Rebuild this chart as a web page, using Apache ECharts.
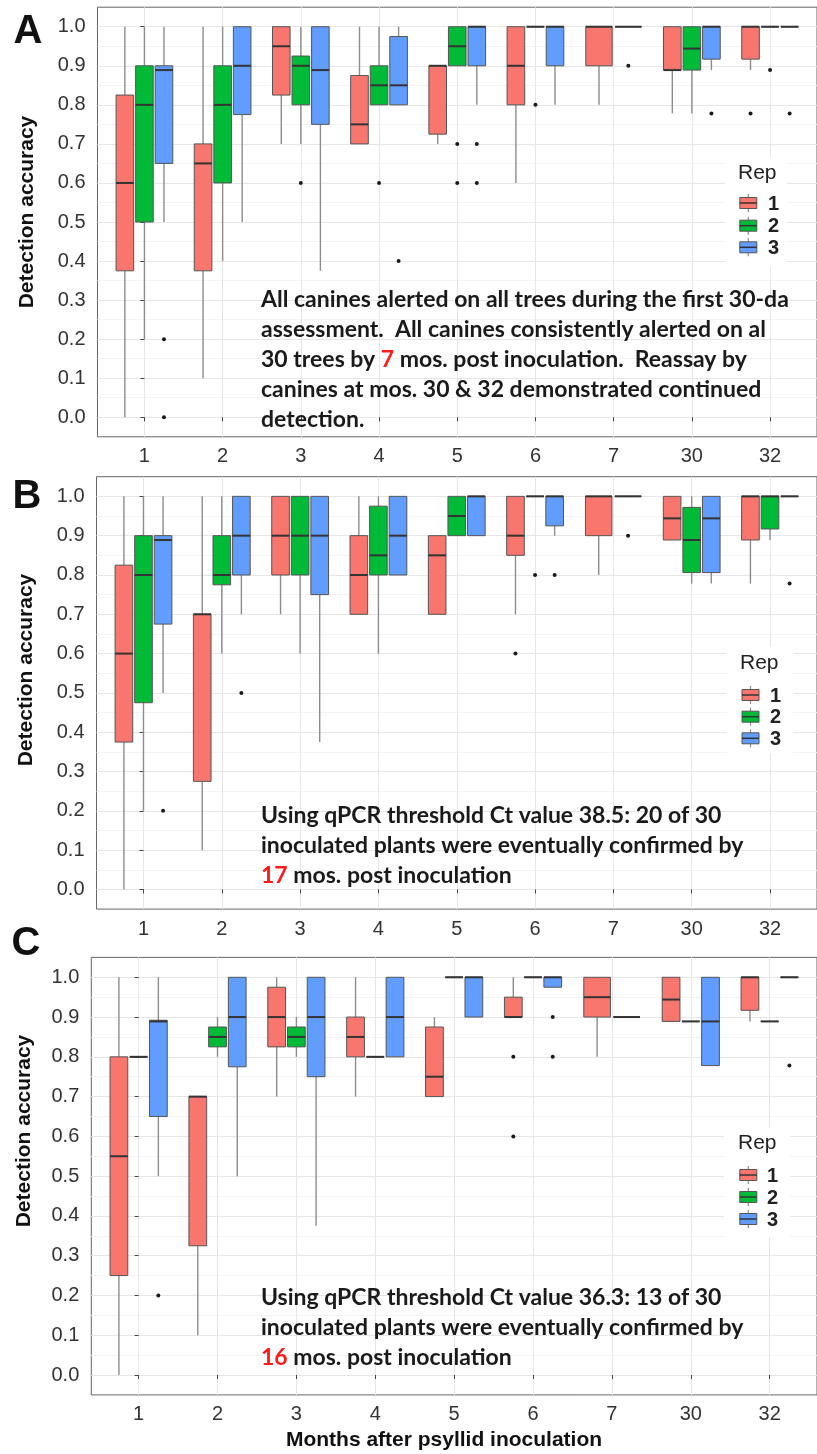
<!DOCTYPE html>
<html>
<head>
<meta charset="utf-8">
<script src="https://cdn.jsdelivr.net/npm/echarts@6/dist/echarts.min.js"></script>
<style>
  html, body { margin: 0; padding: 0; background: #fff; }
  #chart { width: 817px; height: 1454px; }
</style>
</head>
<body>
<div id="chart"></div>
<script>
// ---- data -------------------------------------------------------------
const MONTHS = ['1', '2', '3', '4', '5', '6', '7', '30', '32'];
const REPS = ['1', '2', '3'];
const Y_TICKS = [0, 0.1, 0.2, 0.3, 0.4, 0.5, 0.6, 0.7, 0.8, 0.9, 1.0];
const Y_MINOR = [0.05, 0.15, 0.25, 0.35, 0.45, 0.55, 0.65, 0.75, 0.85, 0.95];

// box statistics per month: [min, q1, median, q3, max]; null = not assessed
// Panel A: canine detection accuracy
const A_REP1 = [
  [0, 0.375, 0.6, 0.825, 1.0], [0.1, 0.375, 0.65, 0.7, 1.0], [0.7, 0.825, 0.95, 1.0, 1.0],
  [0.7, 0.7, 0.75, 0.875, 1.0], [0.7, 0.725, 0.9, 0.9, 0.9], [0.6, 0.8, 0.9, 1.0, 1.0],
  [0.8, 0.9, 1.0, 1.0, 1.0], [0.778, 0.889, 0.889, 1.0, 1.0], [0.889, 0.917, 1.0, 1.0, 1.0]
];
const A_REP2 = [
  [0.2, 0.5, 0.8, 0.9, 1.0], [0.4, 0.6, 0.8, 0.9, 1.0], [0.7, 0.8, 0.9, 0.925, 1.0],
  [0.8, 0.8, 0.85, 0.9, 1.0], [0.9, 0.9, 0.95, 1.0, 1.0], [1, 1, 1, 1, 1],
  [1, 1, 1, 1, 1], [0.778, 0.889, 0.944, 1.0, 1.0], [1, 1, 1, 1, 1]
];
const A_REP3 = [
  [0.5, 0.65, 0.889, 0.9, 1.0], [0.5, 0.775, 0.9, 1.0, 1.0], [0.375, 0.75, 0.889, 1.0, 1.0],
  [0.8, 0.8, 0.85, 0.975, 1.0], [0.8, 0.9, 1.0, 1.0, 1.0], [0.8, 0.9, 1.0, 1.0, 1.0],
  null, [0.889, 0.917, 1.0, 1.0, 1.0], [1, 1, 1, 1, 1]
];
// outliers: [month index, value]
const A_OUT1 = [[8, 0.778]];
const A_OUT2 = [[2, 0.6], [3, 0.6], [4, 0.7], [4, 0.6], [5, 0.8], [6, 0.9], [8, 0.889]];
const A_OUT3 = [[0, 0.2], [0, 0.0], [3, 0.4], [4, 0.7], [4, 0.6], [7, 0.778], [8, 0.778]];

// Panel B: qPCR threshold Ct 38.5
const B_REP1 = [
  [0, 0.375, 0.6, 0.825, 1.0], [0.1, 0.275, 0.7, 0.7, 1.0], [0.7, 0.8, 0.9, 1.0, 1.0],
  [0.7, 0.7, 0.8, 0.9, 1.0], [0.7, 0.7, 0.85, 0.9, 0.9], [0.7, 0.85, 0.9, 1.0, 1.0],
  [0.8, 0.9, 1.0, 1.0, 1.0], [0.889, 0.889, 0.944, 1.0, 1.0], [0.778, 0.889, 1.0, 1.0, 1.0]
];
const B_REP2 = [
  [0.2, 0.475, 0.8, 0.9, 1.0], [0.6, 0.775, 0.8, 0.9, 1.0], [0.6, 0.8, 0.9, 1.0, 1.0],
  [0.6, 0.8, 0.85, 0.975, 1.0], [0.9, 0.9, 0.95, 1.0, 1.0], [1, 1, 1, 1, 1],
  [1, 1, 1, 1, 1], [0.778, 0.806, 0.889, 0.972, 1.0], [0.889, 0.917, 1.0, 1.0, 1.0]
];
const B_REP3 = [
  [0.5, 0.675, 0.889, 0.9, 1.0], [0.7, 0.8, 0.9, 1.0, 1.0], [0.375, 0.75, 0.9, 1.0, 1.0],
  [0.8, 0.8, 0.9, 1.0, 1.0], [0.9, 0.9, 1.0, 1.0, 1.0], [0.9, 0.925, 1.0, 1.0, 1.0],
  null, [0.778, 0.806, 0.944, 1.0, 1.0], [1, 1, 1, 1, 1]
];
const B_OUT1 = [[5, 0.6]];
const B_OUT2 = [[5, 0.8], [6, 0.9]];
const B_OUT3 = [[0, 0.2], [1, 0.5], [5, 0.8], [8, 0.778]];

// Panel C: qPCR threshold Ct 36.3
const C_REP1 = [
  [0, 0.25, 0.55, 0.8, 1.0], [0.1, 0.325, 0.7, 0.7, 0.7], [0.7, 0.825, 0.9, 0.975, 1.0],
  [0.7, 0.8, 0.85, 0.9, 1.0], [0.7, 0.7, 0.75, 0.875, 0.9], [0.9, 0.9, 0.9, 0.95, 1.0],
  [0.8, 0.9, 0.95, 1.0, 1.0], [0.889, 0.889, 0.944, 1.0, 1.0], [0.889, 0.917, 1.0, 1.0, 1.0]
];
const C_REP2 = [
  [0.8, 0.8, 0.8, 0.8, 0.8], [0.8, 0.825, 0.85, 0.875, 0.9], [0.8, 0.825, 0.85, 0.875, 0.9],
  [0.8, 0.8, 0.8, 0.8, 0.8], [1, 1, 1, 1, 1], [1, 1, 1, 1, 1],
  [0.9, 0.9, 0.9, 0.9, 0.9], [0.889, 0.889, 0.889, 0.889, 0.889], [0.889, 0.889, 0.889, 0.889, 0.889]
];
const C_REP3 = [
  [0.5, 0.65, 0.889, 0.892, 1.0], [0.5, 0.775, 0.9, 1.0, 1.0], [0.375, 0.75, 0.9, 1.0, 1.0],
  [0.8, 0.8, 0.9, 1.0, 1.0], [0.9, 0.9, 1.0, 1.0, 1.0], [0.975, 0.975, 1.0, 1.0, 1.0],
  null, [0.778, 0.778, 0.889, 1.0, 1.0], [1, 1, 1, 1, 1]
];
const C_OUT1 = [[5, 0.8], [5, 0.6]];
const C_OUT2 = [];
const C_OUT3 = [[0, 0.2], [5, 0.9], [5, 0.8], [8, 0.778]];

// annotation text; {r|..} marks the highlighted month
const A_NOTE = [
  'All canines alerted on all trees during the first 30-da',
  'assessment.  All canines consistently alerted on al',
  '30 trees by {r|7} mos. post inoculation.  Reassay by',
  'canines at mos. 30 & 32 demonstrated continued',
  'detection.'
];
const B_NOTE = [
  'Using qPCR threshold Ct value 38.5: 20 of 30',
  'inoculated plants were eventually confirmed by',
  '{r|17} mos. post inoculation'
];
const C_NOTE = [
  'Using qPCR threshold Ct value 36.3: 13 of 30',
  'inoculated plants were eventually confirmed by',
  '{r|16} mos. post inoculation'
];

// ---- styling / layout ------------------------------------------------------
const COLORS = ['#F8766D', '#00BA38', '#619CFF'];
const BOX_BORDER = '#555555';
const WHISKER = '#8c8c8c';
const MEDIAN = '#333333';
const GRID_MAJOR = '#e6e6e6';
const GRID_MINOR = '#f3f3f3';
const TICK_FONT = '"Liberation Sans", Arial, sans-serif';
const NOTE_FONT = 'Lato, "Open Sans", sans-serif';
const NOTE_SIZE = 23;

const PANELS = [
  { letter: 'A', reps: [A_REP1, A_REP2, A_REP3], outs: [A_OUT1, A_OUT2, A_OUT3], note: A_NOTE,
    grid: { left: 97.5, top: 7.2, width: 727.7, height: 429.6 },
    letterPos: [28, 32], ytitle: [27, 212], noteTop: 300,
    legend: { bg: [725, 157, 62, 110], title: [738, 173], keyX: 748.3, keyY: [203, 225.7, 247.3], labelX: 768 } },
  { letter: 'B', reps: [B_REP1, B_REP2, B_REP3], outs: [B_OUT1, B_OUT2, B_OUT3], note: B_NOTE,
    grid: { left: 96.5, top: 476.7, width: 731, height: 432.4 },
    letterPos: [27, 497], ytitle: [26, 670], noteTop: 816,
    legend: { bg: [727, 647, 66, 106], title: [740, 663], keyX: 750.5, keyY: [695, 716.7, 738.3], labelX: 770 } },
  { letter: 'C', reps: [C_REP1, C_REP2, C_REP3], outs: [C_OUT1, C_OUT2, C_OUT3], note: C_NOTE,
    grid: { left: 91.3, top: 957.4, width: 741, height: 437.5 },
    letterPos: [26, 944], ytitle: [24, 1131], noteTop: 1298,
    legend: { bg: [724, 1128, 66, 109], title: [738, 1143], keyX: 748.3, keyY: [1175, 1197, 1219], labelX: 767 } }
];

// ---- series builders ---------------------------------------------------
// Boxes sharing a month are dodged across 75% of the band, each shrunk by 10%.
function slotX(api, i, slot, n) {
  const unit = api.size([1, 0])[0];
  const span = 0.75 * unit / n;
  return { cx: api.coord([i, 0])[0] - 0.375 * unit + span * (slot + 0.5), w: span * 0.9 };
}

function boxRenderer(color) {
  return function (params, api) {
    const { cx, w } = slotX(api, api.value(0), api.value(1), api.value(2));
    const y = k => api.coord([api.value(0), api.value(k)])[1];
    const yMin = y(3), yQ1 = y(4), yMed = y(5), yQ3 = y(6), yMax = y(7);
    return {
      type: 'group',
      children: [
        { type: 'line', shape: { x1: cx, y1: yQ3, x2: cx, y2: yMax }, style: { stroke: WHISKER, lineWidth: 1.4 } },
        { type: 'line', shape: { x1: cx, y1: yQ1, x2: cx, y2: yMin }, style: { stroke: WHISKER, lineWidth: 1.4 } },
        { type: 'rect', shape: { x: cx - w / 2, y: yQ3, width: w, height: yQ1 - yQ3 },
          style: { fill: color, stroke: BOX_BORDER, lineWidth: 1 } },
        { type: 'line', shape: { x1: cx - w / 2, y1: yMed, x2: cx + w / 2, y2: yMed },
          style: { stroke: MEDIAN, lineWidth: 2 } }
      ]
    };
  };
}

function outlierRenderer(params, api) {
  const { cx } = slotX(api, api.value(0), api.value(1), api.value(2));
  const cy = api.coord([api.value(0), api.value(3)])[1];
  return { type: 'circle', shape: { cx: cx, cy: cy, r: 2 }, style: { fill: '#1a1a1a' } };
}

function buildPanel(p, gi) {
  const slots = MONTHS.map((m, i) => {
    const present = [0, 1, 2].filter(r => p.reps[r][i]);
    return { present: present };
  });
  const series = [];
  [0, 1, 2].forEach(r => {
    const data = [];
    MONTHS.forEach((m, i) => {
      const stats = p.reps[r][i];
      if (!stats) return;
      const pr = slots[i].present;
      data.push([i, pr.indexOf(r), pr.length].concat(stats));
    });
    series.push({
      type: 'custom', name: REPS[r], xAxisIndex: gi, yAxisIndex: gi * 2,
      renderItem: boxRenderer(COLORS[r]), encode: { x: 0, y: [3, 4, 5, 6, 7] },
      data: data, z: 3, silent: true
    });
    const odata = p.outs[r].map(o => {
      const pr = slots[o[0]].present;
      return [o[0], pr.indexOf(r), pr.length, o[1]];
    });
    series.push({
      type: 'custom', xAxisIndex: gi, yAxisIndex: gi * 2,
      renderItem: outlierRenderer, encode: { x: 0, y: 3 },
      data: odata, z: 4, silent: true
    });
  });
  return series;
}

// ---- assemble option ---------------------------------------------------------
const grids = [], xAxes = [], yAxes = [], series = [], graphics = [];
const axisText = { color: '#333', fontSize: 20, fontFamily: TICK_FONT };

PANELS.forEach((p, gi) => {
  grids.push(Object.assign({ show: true, borderColor: '#666', borderWidth: 1, backgroundColor: '#fff' }, p.grid));
  xAxes.push({
    type: 'value', gridIndex: gi, min: -0.6, max: 8.6,
    axisLine: { show: false },
    axisTick: { show: true, length: 4, lineStyle: { color: '#444' }, customValues: MONTHS.map((m, i) => i) },
    axisLabel: Object.assign({ margin: 10, customValues: MONTHS.map((m, i) => i),
      formatter: v => MONTHS[Math.round(v)] }, axisText),
    splitLine: { show: true, lineStyle: { color: GRID_MAJOR, width: 1 } }
  });
  yAxes.push({
    type: 'value', gridIndex: gi, min: -0.05, max: 1.05, position: 'left',
    axisLine: { show: false },
    axisTick: { show: true, length: 4, lineStyle: { color: '#444' }, customValues: Y_TICKS },
    axisLabel: Object.assign({ margin: 12, customValues: Y_TICKS, formatter: v => v.toFixed(1) }, axisText),
    splitLine: { show: true, lineStyle: { color: GRID_MAJOR, width: 1 } }
  });
  yAxes.push({
    type: 'value', gridIndex: gi, min: -0.05, max: 1.05, position: 'left',
    axisLine: { show: false },
    axisTick: { show: false, customValues: Y_MINOR },
    axisLabel: { show: false, customValues: Y_MINOR },
    splitLine: { show: true, lineStyle: { color: GRID_MINOR, width: 1 } }
  });
  buildPanel(p, gi).forEach(s => series.push(s));

  // panel letter
  graphics.push({ type: 'text', x: p.letterPos[0], y: p.letterPos[1], z: 50,
    style: { text: p.letter, font: 'bold 40px "Liberation Sans", Arial, sans-serif', fill: '#111',
      align: 'center', verticalAlign: 'middle' } });
  // y-axis title
  graphics.push({ type: 'text', x: p.ytitle[0], y: p.ytitle[1], rotation: Math.PI / 2, z: 50,
    style: { text: 'Detection accuracy', font: 'bold 21px "Liberation Sans", Arial, sans-serif', fill: '#111',
      align: 'center', verticalAlign: 'middle' } });
  // annotation
  p.note.forEach((line, li) => {
    graphics.push({ type: 'text', x: 261, y: p.noteTop + li * 30, z: 40,
      style: { text: line, font: 'bold ' + NOTE_SIZE + 'px ' + NOTE_FONT, fill: '#1a1a1a',
        align: 'left', verticalAlign: 'middle',
        rich: { r: { fill: '#ff1a1a', font: 'bold ' + NOTE_SIZE + 'px ' + NOTE_FONT } } } });
  });
  // legend
  const L = p.legend;
  graphics.push({ type: 'rect', z: 45, shape: { x: L.bg[0], y: L.bg[1], width: L.bg[2], height: L.bg[3] },
    style: { fill: '#fff' } });
  graphics.push({ type: 'text', x: L.title[0], y: L.title[1], z: 46,
    style: { text: 'Rep', font: '21px ' + TICK_FONT, fill: '#222', align: 'left', verticalAlign: 'middle' } });
  REPS.forEach((rep, r) => {
    const ky = L.keyY[r], kx = L.keyX;
    graphics.push({ type: 'line', z: 46, shape: { x1: kx, y1: ky - 9, x2: kx, y2: ky + 9 },
      style: { stroke: WHISKER, lineWidth: 1.2 } });
    graphics.push({ type: 'rect', z: 47, shape: { x: kx - 8.5, y: ky - 5.5, width: 17, height: 11 },
      style: { fill: COLORS[r], stroke: BOX_BORDER, lineWidth: 1 } });
    graphics.push({ type: 'line', z: 48, shape: { x1: kx - 8.5, y1: ky, x2: kx + 8.5, y2: ky },
      style: { stroke: MEDIAN, lineWidth: 1.5 } });
    graphics.push({ type: 'text', x: L.labelX, y: ky + 1, z: 48,
      style: { text: rep, font: 'bold 20px ' + TICK_FONT, fill: '#222', align: 'left', verticalAlign: 'middle' } });
  });
});

graphics.push({ type: 'text', x: 444, y: 1440, z: 50,
  style: { text: 'Months after psyllid inoculation', font: 'bold 21px "Liberation Sans", Arial, sans-serif',
    fill: '#111', align: 'center', verticalAlign: 'middle' } });

const chart = echarts.init(document.getElementById('chart'), null, { renderer: 'canvas' });
chart.setOption({
  backgroundColor: '#fff',
  animation: false,
  grid: grids,
  xAxis: xAxes,
  yAxis: yAxes,
  series: series,
  graphic: graphics
});
</script>
</body>
</html>
